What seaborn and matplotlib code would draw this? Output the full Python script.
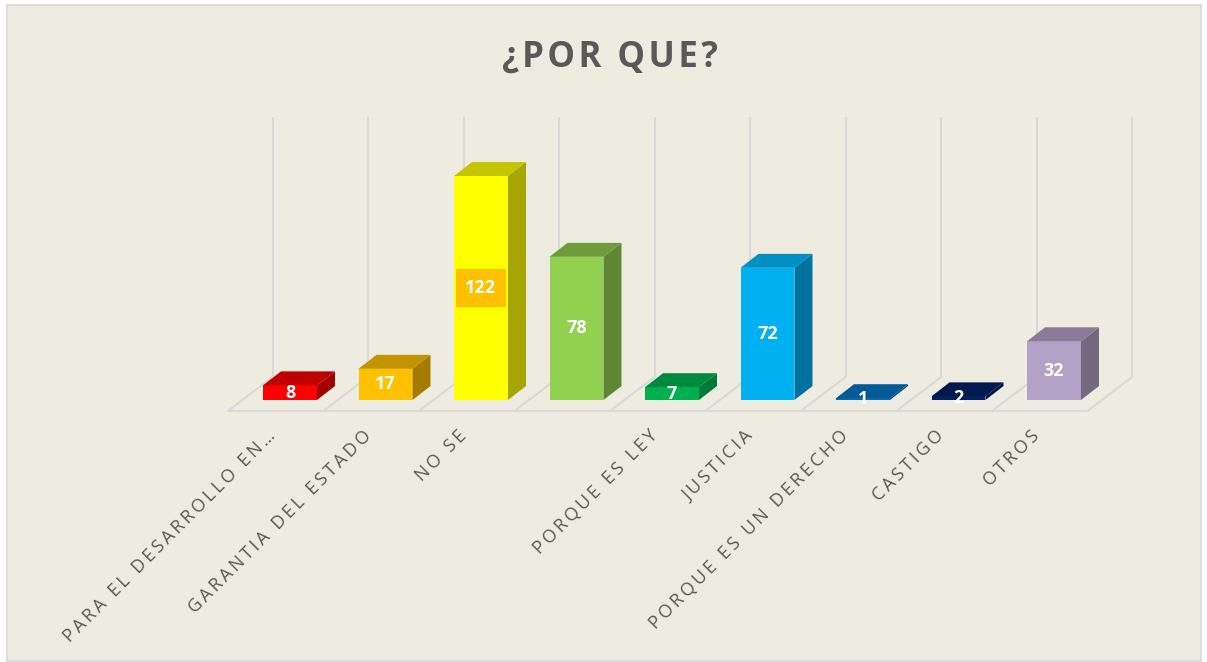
import matplotlib
matplotlib.use("Agg")
import matplotlib.pyplot as plt
import seaborn as sns
import pandas as pd
from matplotlib.patches import Polygon, Rectangle

# ---------------- data ----------------
title = "¿POR QUE?"
tick_labels = ["PARA EL DESARROLLO EN…", "GARANTIA DEL ESTADO", "NO SE", "",
               "PORQUE ES LEY", "JUSTICIA", "PORQUE ES UN DERECHO", "CASTIGO", "OTROS"]
values = [8, 17, 122, 78, 7, 72, 1, 2, 32]
front_colors = ["#FF0000", "#FFC000", "#FFFF00", "#92D050", "#00B050",
                "#00B0F0", "#0068B0", "#002060", "#B3A2C7"]
top_colors = ["#C00000", "#C49300", "#C4C400", "#6E9C3C", "#008A3E",
              "#0090C4", "#005A96", "#001A4F", "#8A7C99"]
side_colors = ["#A00000", "#A67C00", "#A6A600", "#5E8734", "#007A36",
               "#0072A0", "#004C80", "#001540", "#736880"]

# ---------------- style / geometry ----------------
BG = "#EEECE1"
GRID = "#D9D9D9"
TXT = "#595959"
BAR_W = 0.565
DX, DY = 0.1885, 7.6          # bar depth offset (oblique projection)
FLOOR_FRONT = (-0.151, -6.0)  # offset of floor front edge from bar front plane
FLOOR_BACK = (0.320, 12.6)    # offset of back wall from bar front plane
WALL_TOP = 154.1

sns.set_theme(style="white")
plt.rcParams["font.family"] = ["Open Sans", "DejaVu Sans"]

def spaced(s, sep="\u2009"):
    return sep.join(s)

fig = plt.figure(figsize=(12.07, 6.62), dpi=100, facecolor="white")
fig.add_artist(Rectangle((6.5 / 1207, 1 / 662), 1194 / 1207, 656 / 662,
                         transform=fig.transFigure, facecolor=BG,
                         edgecolor="#D9D9D9", linewidth=1.2, zorder=0))
ax = fig.add_axes([0, 0, 1, 1])
ax.set_facecolor("none")

df = pd.DataFrame({"pos": list(range(len(values))), "valor": values})
sns.barplot(data=df, x="pos", y="valor", hue="pos", palette=front_colors,
            saturation=1, width=BAR_W, legend=False, ax=ax, linewidth=0, zorder=3)

n = len(values)
# back wall vertical grid lines and floor lines
for k in range(n + 1):
    xb = k - 0.5 + FLOOR_BACK[0]
    xf = k - 0.5 + FLOOR_FRONT[0]
    ax.plot([xb, xb], [FLOOR_BACK[1], WALL_TOP], color=GRID, lw=1.5, zorder=1,
            solid_capstyle="butt")
    ax.plot([xb, xf], [FLOOR_BACK[1], FLOOR_FRONT[1]], color=GRID, lw=1.5, zorder=1)
ax.plot([-0.5 + FLOOR_FRONT[0], n - 0.5 + FLOOR_FRONT[0]],
        [FLOOR_FRONT[1], FLOOR_FRONT[1]], color=GRID, lw=1.5, zorder=1)

# 3D faces derived from the bars seaborn drew
bars = [p for p in ax.patches if isinstance(p, Rectangle)]
bars.sort(key=lambda p: p.get_x())
for i, p in enumerate(bars):
    x0 = p.get_x()
    x1 = x0 + p.get_width()
    h = p.get_height()
    side = Polygon([(x1, 0), (x1 + DX, DY), (x1 + DX, h + DY), (x1, h)],
                   closed=True, facecolor=side_colors[i], edgecolor="none", zorder=3)
    top = Polygon([(x0, h), (x1, h), (x1 + DX, h + DY), (x0 + DX, h + DY)],
                  closed=True, facecolor=top_colors[i], edgecolor="none", zorder=3)
    ax.add_patch(side)
    ax.add_patch(top)

# value labels
for i, v in enumerate(values):
    kw = dict(ha="center", va="center", color="white", fontsize=13,
              fontweight="bold", zorder=6)
    if v == max(values):
        kw["bbox"] = dict(boxstyle="square,pad=0.55", facecolor="#FFC000",
                          edgecolor="none")
    ax.text(i, v / 2, str(v), **kw)

# category labels (rotated 45°)
for i, lab in enumerate(tick_labels):
    if not lab:
        continue
    ax.text(i + FLOOR_FRONT[0] - 0.03, -18.0, spaced(lab), rotation=45,
            rotation_mode="anchor", ha="right", va="center", color=TXT,
            fontsize=13, zorder=6)

fig.text(610 / 1207, 1 - 67 / 662, spaced(title, "\u200a"), ha="center",
         va="baseline", color=TXT, fontsize=25, fontweight="bold")

ax.set_xlim((0 - 290) / 95.5, (1207 - 290) / 95.5)
ax.set_ylim((400 - 662) / 1.836, 400 / 1.836)
ax.axis("off")

fig.savefig("out.png", dpi=100, facecolor="white")
